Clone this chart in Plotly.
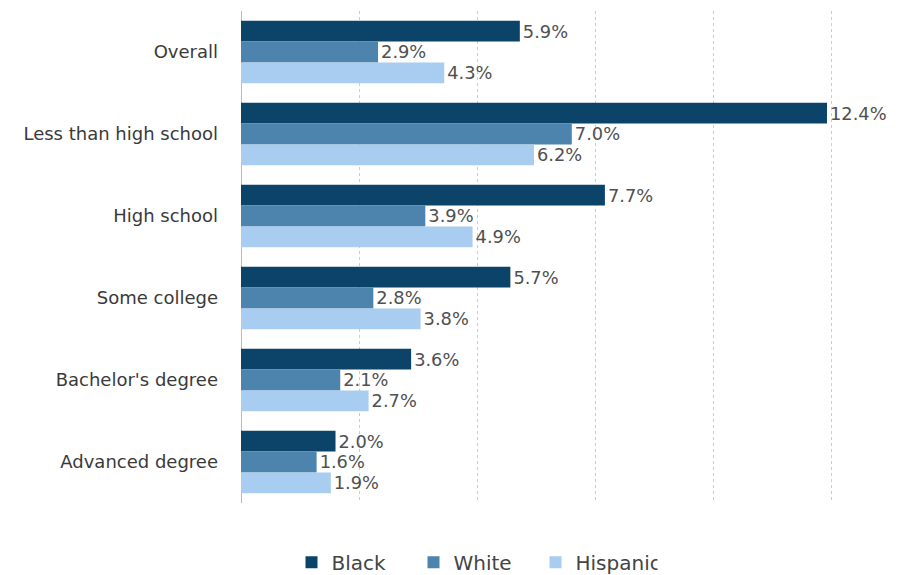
import plotly.graph_objects as go

categories = ["Overall", "Less than high school", "High school", "Some college",
              "Bachelor's degree", "Advanced degree"]
black = [5.9, 12.4, 7.7, 5.7, 3.6, 2.0]
white = [2.9, 7.0, 3.9, 2.8, 2.1, 1.6]
hispanic = [4.3, 6.2, 4.9, 3.8, 2.7, 1.9]

series = [("Black", black, "#0b4468"), ("White", white, "#4d84ad"), ("Hispanic", hispanic, "#a8cdf0")]

FONT = "DejaVu Sans"

fig = go.Figure()
for name, vals, color in series:
    fig.add_trace(go.Bar(
        y=categories, x=vals, name=name, orientation="h",
        marker=dict(color=color, line=dict(width=0)),
        text=[f"{v:.1f}%" for v in vals], textposition="outside",
        textfont=dict(family=FONT, size=18, color="#505050"),
        cliponaxis=False,
    ))

fig.update_layout(
    width=900, height=575,
    barmode="group", bargap=0.24, bargroupgap=0,
    plot_bgcolor="white", paper_bgcolor="white",
    margin=dict(l=233, r=29, t=3, b=80),
    font=dict(family=FONT, size=17, color="#333333"),
    xaxis=dict(range=[0, 13.5], dtick=2.5, showticklabels=False, automargin=False,
               showgrid=True, gridcolor="#cccccc", griddash="dot", gridwidth=1,
               zeroline=True, zerolinecolor="#bbbbbb", zerolinewidth=1),
    yaxis=dict(autorange="reversed", ticks="", ticklabelstandoff=22, automargin=False,
               tickfont=dict(family=FONT, size=18, color="#3a3a3a")),
    legend=dict(orientation="h", xref="container", yref="container",
                x=0.315, xanchor="left", y=0.036, yanchor="middle",
                font=dict(family=FONT, size=20, color="#444444"), traceorder="normal",
                itemwidth=30, entrywidth=77, entrywidthmode="pixels"),
    showlegend=True,
)

fig.write_html("out.html")
